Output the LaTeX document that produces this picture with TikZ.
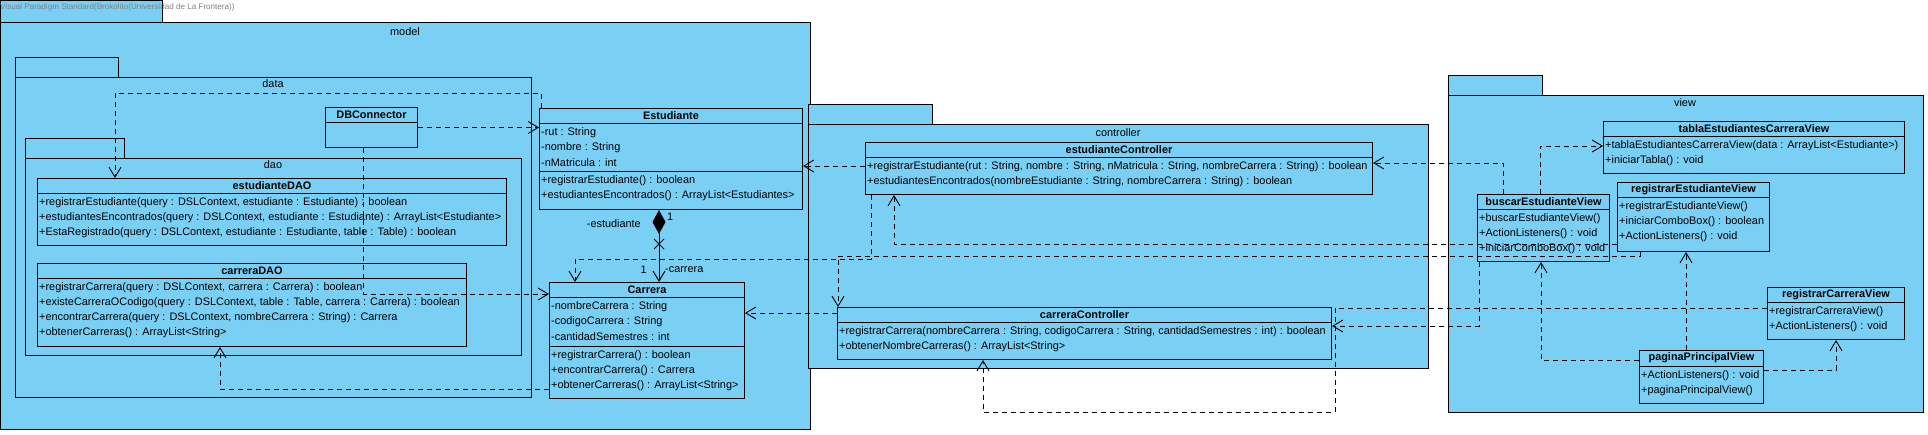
\documentclass[tikz,border=0pt]{standalone}
\usepackage{fontspec}
\setmainfont{Liberation Sans}
\usetikzlibrary{arrows.meta,calc,shapes.misc}
\definecolor{pkgblue}{RGB}{122,207,245}

\begin{document}
\begin{tikzpicture}[x=1pt,y=-1pt,
  font=\fontsize{10.9}{12}\selectfont,
  pkg/.style={draw=black, fill=pkgblue, line width=1pt},
  pkgname/.style={inner sep=0pt},
  cls/.style={draw=black, fill=pkgblue, line width=1pt, anchor=north west, inner sep=0pt},
  clsname/.style={font=\fontsize{10.9}{12}\selectfont\bfseries, inner sep=0pt},
  row/.style={anchor=west, inner sep=0pt},
  sep/.style={line width=1pt},
  dep/.style={line width=0.9pt, dash pattern=on 5pt off 4pt,
    -{Straight Barb[length=10pt,width=12pt,line width=0.9pt]}},
  comp/.style={line width=1pt,
    {Diamond[length=24pt,width=13pt,fill=black]}-{Straight Barb[length=10pt,width=12pt]}},
  xmark/.style={cross out, draw=black, line width=1pt, minimum size=9pt, inner sep=0pt},
  lbl/.style={inner sep=0pt},
  title/.style={font=\fontsize{8.1}{9}\selectfont, text=gray, inner sep=0pt, anchor=west}]
  \useasboundingbox (0,0) rectangle (1928,434);

  % packages
  \filldraw[pkg] (0.5,0.5) rectangle (162,22);
  \filldraw[pkg] (0.5,22) rectangle (810,429);
  \node[pkgname] (model) at (405,32) {model};
  \filldraw[pkg] (15,57) rectangle (118,77);
  \filldraw[pkg] (15,77) rectangle (531,397);
  \node[pkgname] (data) at (273,84) {data};
  \filldraw[pkg] (25,138) rectangle (124,158);
  \filldraw[pkg] (25,158) rectangle (521,355);
  \node[pkgname] (dao) at (273,165) {dao};
  \filldraw[pkg] (808,104) rectangle (932,124);
  \filldraw[pkg] (808,124) rectangle (1428,368);
  \node[pkgname] (controller) at (1118,133) {controller};
  \filldraw[pkg] (1448,75) rectangle (1542,95);
  \filldraw[pkg] (1448,95) rectangle (1923,412);
  \node[pkgname] (view) at (1685,103) {view};
  \node[title] (vp) at (0,7) {Visual Paradigm Standard(Brokolito(Universidad de La Frontera))};

  % dao classes
  \node[cls, minimum width=469pt, minimum height=67pt] (estdao) at (37,178) {};
  \node[clsname] (estdao-n) at ($(estdao.north)+(0,7.5)$) {estudianteDAO};
  \draw[sep] ($(estdao.north west)+(0,15)$) -- ($(estdao.north east)+(0,15)$);
  \foreach \t [count=\i from 0] in {{+registrarEstudiante(query : DSLContext, estudiante : Estudiante) : boolean},
      {+estudiantesEncontrados(query : DSLContext, estudiante : Estudiante) : ArrayList<Estudiante>},
      {+EstaRegistrado(query : DSLContext, estudiante : Estudiante, table : Table) : boolean}}
    \node[row] (estdao-\i) at ($(estdao.north west)+(2,25+14.8*\i)$) {\t};

  \node[cls, minimum width=429pt, minimum height=83pt] (cardao) at (37,263) {};
  \node[clsname] (cardao-n) at ($(cardao.north)+(0,7.5)$) {carreraDAO};
  \draw[sep] ($(cardao.north west)+(0,15)$) -- ($(cardao.north east)+(0,15)$);
  \foreach \t [count=\i from 0] in {{+registrarCarrera(query : DSLContext, carrera : Carrera) : boolean},
      {+existeCarreraOCodigo(query : DSLContext, table : Table, carrera : Carrera) : boolean},
      {+encontrarCarrera(query : DSLContext, nombreCarrera : String) : Carrera},
      {+obtenerCarreras() : ArrayList<String>}}
    \node[row] (cardao-\i) at ($(cardao.north west)+(2,25+14.8*\i)$) {\t};

  \node[cls, minimum width=92pt, minimum height=40pt] (dbc) at (325,107) {};
  \node[clsname] (dbc-n) at ($(dbc.north)+(0,7.5)$) {DBConnector};
  \draw[sep] ($(dbc.north west)+(0,15)$) -- ($(dbc.north east)+(0,15)$);

  % model classes
  \node[cls, minimum width=263pt, minimum height=101pt] (est) at (539,108) {};
  \node[clsname] (est-n) at ($(est.north)+(0,7.5)$) {Estudiante};
  \draw[sep] ($(est.north west)+(0,15)$) -- ($(est.north east)+(0,15)$);
  \draw[sep] ($(est.north west)+(0,63)$) -- ($(est.north east)+(0,63)$);
  \foreach \t [count=\i from 0] in {{-rut : String}, {-nombre : String}, {-nMatricula : int}}
    \node[row] (est-a\i) at ($(est.north west)+(2,25+14.8*\i)$) {\t};
  \foreach \t [count=\i from 0] in {{+registrarEstudiante() : boolean},
      {+estudiantesEncontrados() : ArrayList<Estudiantes>}}
    \node[row] (est-m\i) at ($(est.north west)+(2,73+14.8*\i)$) {\t};

  \node[cls, minimum width=195pt, minimum height=116pt] (car) at (549,282) {};
  \node[clsname] (car-n) at ($(car.north)+(0,7.5)$) {Carrera};
  \draw[sep] ($(car.north west)+(0,15)$) -- ($(car.north east)+(0,15)$);
  \draw[sep] ($(car.north west)+(0,64)$) -- ($(car.north east)+(0,64)$);
  \foreach \t [count=\i from 0] in {{-nombreCarrera : String}, {-codigoCarrera : String},
      {-cantidadSemestres : int}}
    \node[row] (car-a\i) at ($(car.north west)+(2,25+14.8*\i)$) {\t};
  \foreach \t [count=\i from 0] in {{+registrarCarrera() : boolean}, {+encontrarCarrera() : Carrera},
      {+obtenerCarreras() : ArrayList<String>}}
    \node[row] (car-m\i) at ($(car.north west)+(2,74+14.8*\i)$) {\t};

  % controller classes
  \node[cls, minimum width=507pt, minimum height=52pt] (ec) at (865,142) {};
  \node[clsname] (ec-n) at ($(ec.north)+(0,7.5)$) {estudianteController};
  \draw[sep] ($(ec.north west)+(0,15)$) -- ($(ec.north east)+(0,15)$);
  \foreach \t [count=\i from 0] in {{+registrarEstudiante(rut : String, nombre : String, nMatricula : String, nombreCarrera : String) : boolean},
      {+estudiantesEncontrados(nombreEstudiante : String, nombreCarrera : String) : boolean}}
    \node[row] (ec-\i) at ($(ec.north west)+(2,25+14.8*\i)$) {\t};

  \node[cls, minimum width=494pt, minimum height=52pt] (cc) at (837,307) {};
  \node[clsname] (cc-n) at ($(cc.north)+(0,7.5)$) {carreraController};
  \draw[sep] ($(cc.north west)+(0,15)$) -- ($(cc.north east)+(0,15)$);
  \foreach \t [count=\i from 0] in {{+registrarCarrera(nombreCarrera : String, codigoCarrera : String, cantidadSemestres : int) : boolean},
      {+obtenerNombreCarreras() : ArrayList<String>}}
    \node[row] (cc-\i) at ($(cc.north west)+(2,25+14.8*\i)$) {\t};

  % view classes
  \node[cls, minimum width=301pt, minimum height=52pt] (tab) at (1603,121) {};
  \node[clsname] (tab-n) at ($(tab.north)+(0,7.5)$) {tablaEstudiantesCarreraView};
  \draw[sep] ($(tab.north west)+(0,15)$) -- ($(tab.north east)+(0,15)$);
  \foreach \t [count=\i from 0] in {{+tablaEstudiantesCarreraView(data : ArrayList<Estudiante>)},
      {+iniciarTabla() : void}}
    \node[row] (tab-\i) at ($(tab.north west)+(2,25+14.8*\i)$) {\t};

  \node[cls, minimum width=132pt, minimum height=67pt] (bev) at (1477,194) {};
  \node[clsname] (bev-n) at ($(bev.north)+(0,7.5)$) {buscarEstudianteView};
  \draw[sep] ($(bev.north west)+(0,15)$) -- ($(bev.north east)+(0,15)$);
  \foreach \t [count=\i from 0] in {{+buscarEstudianteView()}, {+ActionListeners() : void},
      {+iniciarComboBox() : void}}
    \node[row] (bev-\i) at ($(bev.north west)+(2,25+14.8*\i)$) {\t};

  \node[cls, minimum width=152pt, minimum height=69pt] (rev) at (1617,182) {};
  \node[clsname] (rev-n) at ($(rev.north)+(0,7.5)$) {registrarEstudianteView};
  \draw[sep] ($(rev.north west)+(0,15)$) -- ($(rev.north east)+(0,15)$);
  \foreach \t [count=\i from 0] in {{+registrarEstudianteView()}, {+iniciarComboBox() : boolean},
      {+ActionListeners() : void}}
    \node[row] (rev-\i) at ($(rev.north west)+(2,25+14.8*\i)$) {\t};

  \node[cls, minimum width=137pt, minimum height=52pt] (rcv) at (1767,287) {};
  \node[clsname] (rcv-n) at ($(rcv.north)+(0,7.5)$) {registrarCarreraView};
  \draw[sep] ($(rcv.north west)+(0,15)$) -- ($(rcv.north east)+(0,15)$);
  \foreach \t [count=\i from 0] in {{+registrarCarreraView()}, {+ActionListeners() : void}}
    \node[row] (rcv-\i) at ($(rcv.north west)+(2,25+14.8*\i)$) {\t};

  \node[cls, minimum width=124pt, minimum height=53pt] (pag) at (1639,350) {};
  \node[clsname] (pag-n) at ($(pag.north)+(0,7.5)$) {paginaPrincipalView};
  \draw[sep] ($(pag.north west)+(0,16)$) -- ($(pag.north east)+(0,16)$);
  \foreach \t [count=\i from 0] in {{+ActionListeners() : void}, {+paginaPrincipalView()}}
    \node[row] (pag-\i) at ($(pag.north west)+(2,26+14.8*\i)$) {\t};

  % dependencies
  \draw[dep] (dbc.east) -- (dbc.east -| est.west);
  \draw[dep] ([xshift=-8pt]dbc.south) |- ([yshift=-12pt]car.north west);
  \draw[dep] ([xshift=2pt]est.north west) -- ++(0,-15) -| ([xshift=78pt]estdao.north west);
  \draw[dep] ([yshift=10pt]car.south west) -| ([xshift=183pt]cardao.south west);
  \draw[dep] ([yshift=-24pt]ec.north west) -- ([yshift=-24pt]ec.north west -| est.east);
  \draw[dep] ([xshift=6pt]ec.south west) -- ++(0,64) -| ([xshift=26pt]car.north west);
  \draw[dep] ([yshift=-6pt]cc.north west) -- ([yshift=-6pt]cc.north west -| car.east);
  \draw[dep] ([yshift=8pt]rev.south west) -| ([xshift=29pt]ec.south west);
  \draw[dep] ([xshift=23pt]rev.south west) -- ++(0,4) -| ([xshift=1pt]cc.north west);
  \draw[dep] ([xshift=26pt]bev.north west) |- ([yshift=-21pt]ec.north east);
  \draw[dep] ([xshift=63pt]bev.north west) |- ([yshift=-25pt]tab.north west);
  \draw[dep] ([xshift=2pt]bev.south west) |- ([yshift=-19pt]cc.north east);
  \draw[dep] ([yshift=-21pt]rcv.north west) -| ([xshift=3pt,yshift=-52pt]cc.south east)
    -| ([xshift=146pt]cc.south west);
  \draw[dep] ([yshift=-10pt]pag.north west) -| ([xshift=64pt]bev.south west);
  \draw[dep] ([xshift=47pt]pag.north west) -- ([xshift=47pt]pag.north west |- rev.south);
  \draw[dep] ([yshift=-20pt]pag.north east) -| ([xshift=69pt]rcv.south west);

  % composition
  \coordinate (ce) at ([xshift=120pt]est.south west);
  \coordinate (cc2) at (ce |- car.north);
  \draw[comp] (ce) -- (cc2);
  \node[xmark] (nav) at ($(ce)+(0,34)$) {};
  \node[lbl, anchor=west] (m1) at ($(ce)+(8,7)$) {1};
  \node[lbl, anchor=east] (r1) at ($(ce)+(-18,14)$) {-estudiante};
  \node[lbl, anchor=east] (m2) at ($(cc2)+(-12,-12)$) {1};
  \node[lbl, anchor=west] (r2) at ($(cc2)+(6,-12)$) {-carrera};
\end{tikzpicture}
\end{document}
